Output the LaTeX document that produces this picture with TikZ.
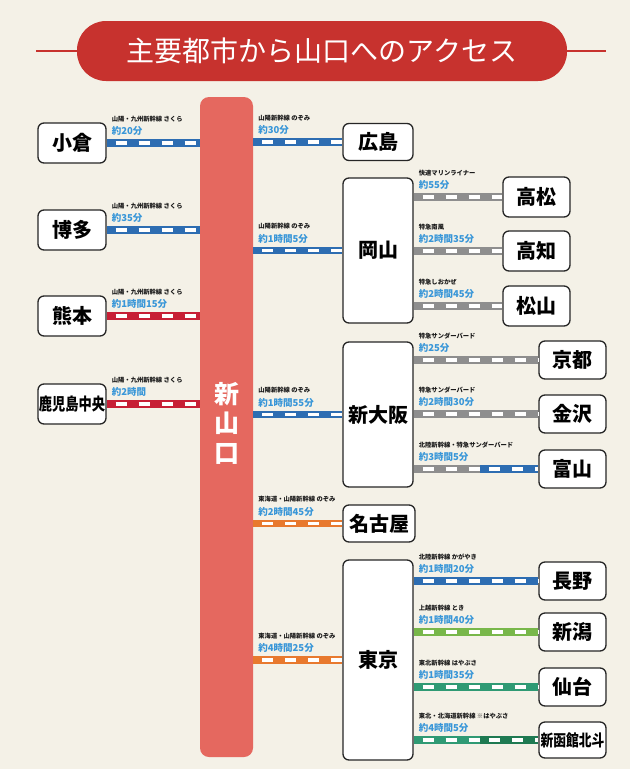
\documentclass[tikz,border=0pt]{standalone}
\usepackage{fontspec}
\newfontfamily\cjk{Noto Sans CJK JP}
\usetikzlibrary{calc}
\definecolor{bg}{HTML}{F4F1E7}
\definecolor{titlered}{HTML}{C7322E}
\definecolor{barred}{HTML}{E5685F}
\definecolor{kblue}{HTML}{2D6DB2}
\definecolor{kred}{HTML}{C71F35}
\definecolor{torange}{HTML}{E8792E}
\definecolor{rgray}{HTML}{8E8E8E}
\definecolor{lgreen}{HTML}{78B74A}
\definecolor{teal2}{HTML}{2F9A74}
\definecolor{dgreen}{HTML}{1E7A52}
\definecolor{timeblue}{HTML}{3896D8}
\newcommand\rail[3]{%
  \draw[line width=7.5pt,#1] #2 -- #3;
  \draw[line width=3.4pt,white,dash pattern=on 11pt off 12pt,dash phase=-9pt] #2 -- #3;}
\newcommand\lab[4]{%
  \node[route] (#1r) at ($#2+(5,-22)$) {#3};
  \node[time] (#1t) at ($#2+(5,-8.5)$) {#4};}
\tikzset{
  cbox/.style={draw=black!85, line width=1.3pt, rounded corners=6pt, fill=white, inner sep=0pt,
    font=\cjk\bfseries\fontsize{20}{22}\selectfont},
  route/.style={font=\cjk\bfseries\fontsize{6.3}{7}\selectfont, inner sep=0pt, anchor=base west, text=black!90},
  time/.style={font=\cjk\bfseries\fontsize{9.5}{10}\selectfont, inner sep=0pt, anchor=base west, text=timeblue},
}
\begin{document}
\begin{tikzpicture}[x=1pt,y=-1pt]
\fill[bg] (0,0) rectangle (630,769);
\useasboundingbox (0,0) rectangle (630,769);
% title
\node[fill=titlered, rounded corners=29pt, minimum width=490pt, minimum height=60pt, inner sep=0pt] (pill) at (322,51) {};
\draw[titlered, line width=2pt] (36,51) -- (pill.west);
\draw[titlered, line width=2pt] (pill.east) -- (606,51);
\node[font=\cjk\fontsize{28}{30}\selectfont, text=white, inner sep=0pt] (title) at (pill.center) {主要都市から山口へのアクセス};
% central bar
\node[fill=barred, rounded corners=9pt, minimum width=53pt, minimum height=660pt, inner sep=0pt] (bar) at (226.5,427) {};
\node[font=\cjk\bfseries\fontsize{25}{29.5}\selectfont, text=white, align=center, inner sep=0pt] (barlabel) at (227,423) {新\\山\\口};
% left boxes
\node[cbox, minimum width=68pt, minimum height=40pt] (kokura) at (72,143) {小倉};
\node[cbox, minimum width=68pt, minimum height=40pt] (hakata) at (72,230) {博多};
\node[cbox, minimum width=68pt, minimum height=40pt] (kumamoto) at (72,316) {熊本};
\node[cbox, minimum width=68pt, minimum height=40pt] (kagoshima) at (72,404) {\scalebox{0.78}[1]{\fontsize{17}{19}\selectfont 鹿児島中央}};
% left rails
\rail{kblue}{(kokura.east)}{(kokura.east -| bar.west)}
\lab{ko}{(kokura.east)}{山陽・九州新幹線 さくら}{約20分}
\rail{kblue}{(hakata.east)}{(hakata.east -| bar.west)}
\lab{ha}{(hakata.east)}{山陽・九州新幹線 さくら}{約35分}
\rail{kred}{(kumamoto.east)}{(kumamoto.east -| bar.west)}
\lab{ku}{(kumamoto.east)}{山陽・九州新幹線 さくら}{約1時間15分}
\rail{kred}{(kagoshima.east)}{(kagoshima.east -| bar.west)}
\lab{ka}{(kagoshima.east)}{山陽・九州新幹線 さくら}{約2時間}
% middle boxes
\node[cbox, minimum width=70pt, minimum height=37pt] (hiroshima) at (378,142) {広島};
\node[cbox, minimum width=70pt, minimum height=145pt] (okayama) at (378,250.5) {岡山};
\node[cbox, minimum width=70pt, minimum height=145pt] (shinosaka) at (378,414.5) {新大阪};
\node[cbox, minimum width=72pt, minimum height=37pt] (nagoya) at (379,523.5) {名古屋};
\node[cbox, minimum width=70pt, minimum height=200pt] (tokyo) at (378,660) {東京};
% middle rails
\coordinate (sHi) at (bar.east |- hiroshima.west);
\rail{kblue}{(sHi)}{(hiroshima.west)}
\lab{hi}{(sHi)}{山陽新幹線 のぞみ}{約30分}
\coordinate (sOk) at (bar.east |- okayama.west);
\rail{kblue}{(sOk)}{(okayama.west)}
\lab{ok}{(sOk)}{山陽新幹線 のぞみ}{約1時間5分}
\coordinate (sOs) at (bar.east |- shinosaka.west);
\rail{kblue}{(sOs)}{(shinosaka.west)}
\lab{os}{(sOs)}{山陽新幹線 のぞみ}{約1時間55分}
\coordinate (sNg) at (bar.east |- nagoya.west);
\rail{torange}{(sNg)}{(nagoya.west)}
\lab{ng}{(sNg)}{東海道・山陽新幹線 のぞみ}{約2時間45分}
\coordinate (sTk) at (bar.east |- tokyo.west);
\rail{torange}{(sTk)}{(tokyo.west)}
\lab{tk}{(sTk)}{東海道・山陽新幹線 のぞみ}{約4時間25分}
% right column 1
\node[cbox, minimum width=67pt, minimum height=40pt] (takamatsu) at (536.5,197) {高松};
\node[cbox, minimum width=67pt, minimum height=40pt] (kochi) at (536.5,251) {高知};
\node[cbox, minimum width=67pt, minimum height=40pt] (matsuyama) at (536.5,306) {松山};
\coordinate (sTm) at (okayama.east |- takamatsu.west);
\rail{rgray}{(sTm)}{(takamatsu.west)}
\lab{tm}{(sTm)}{快速マリンライナー}{約55分}
\coordinate (sKc) at (okayama.east |- kochi.west);
\rail{rgray}{(sKc)}{(kochi.west)}
\lab{kc}{(sKc)}{特急南風}{約2時間35分}
\coordinate (sMy) at (okayama.east |- matsuyama.west);
\rail{rgray}{(sMy)}{(matsuyama.west)}
\lab{my}{(sMy)}{特急しおかぜ}{約2時間45分}
% right column 2
\node[cbox, minimum width=67pt, minimum height=38pt] (kyoto) at (572.5,360) {京都};
\node[cbox, minimum width=67pt, minimum height=38pt] (kanazawa) at (572.5,414) {金沢};
\node[cbox, minimum width=67pt, minimum height=38pt] (toyama) at (572.5,469) {富山};
\node[cbox, minimum width=67pt, minimum height=38pt] (nagano) at (572.5,581) {長野};
\node[cbox, minimum width=67pt, minimum height=38pt] (niigata) at (572.5,632) {新潟};
\node[cbox, minimum width=67pt, minimum height=38pt] (sendai) at (572.5,687) {仙台};
\node[cbox, minimum width=67pt, minimum height=36pt] (hakodate) at (572.5,740) {\scalebox{0.8}[1]{\fontsize{16}{18}\selectfont 新函館北斗}};
\coordinate (sKy) at (shinosaka.east |- kyoto.west);
\rail{rgray}{(sKy)}{(kyoto.west)}
\lab{ky}{(sKy)}{特急サンダーバード}{約25分}
\coordinate (sKz) at (shinosaka.east |- kanazawa.west);
\rail{rgray}{(sKz)}{(kanazawa.west)}
\lab{kz}{(sKz)}{特急サンダーバード}{約2時間30分}
\coordinate (sTy) at (shinosaka.east |- toyama.west);
\coordinate (mTy) at (480,469);
\rail{rgray}{(sTy)}{(mTy)}
\rail{kblue}{(mTy)}{(toyama.west)}
\lab{ty}{(sTy)}{北陸新幹線・特急サンダーバード}{約3時間5分}
\coordinate (sNn) at (tokyo.east |- nagano.west);
\rail{kblue}{(sNn)}{(nagano.west)}
\lab{nn}{(sNn)}{北陸新幹線 かがやき}{約1時間20分}
\coordinate (sNi) at (tokyo.east |- niigata.west);
\rail{lgreen}{(sNi)}{(niigata.west)}
\lab{ni}{(sNi)}{上越新幹線 とき}{約1時間40分}
\coordinate (sSd) at (tokyo.east |- sendai.west);
\rail{teal2}{(sSd)}{(sendai.west)}
\lab{sd}{(sSd)}{東北新幹線 はやぶさ}{約1時間35分}
\coordinate (sHk) at (tokyo.east |- hakodate.west);
\coordinate (mHk) at (480,740);
\rail{teal2}{(sHk)}{(mHk)}
\rail{dgreen}{(mHk)}{(hakodate.west)}
\lab{hk}{(sHk)}{東北・北海道新幹線 ※はやぶさ}{約4時間5分}
\end{tikzpicture}
\end{document}
